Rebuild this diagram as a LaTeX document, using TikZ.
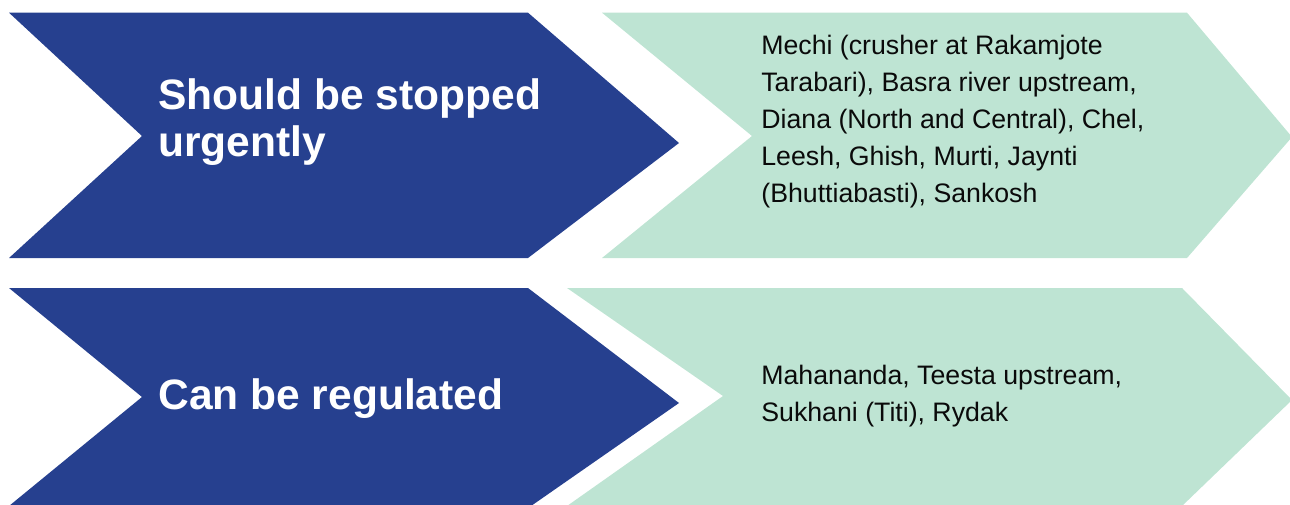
\documentclass[tikz,border=0pt]{standalone}
\usepackage{fontspec}
\setmainfont{Liberation Sans}
\usepackage{xcolor}
\usetikzlibrary{positioning}
\definecolor{navy}{HTML}{26408F}
\definecolor{mint}{HTML}{BEE4D3}
\definecolor{ink}{HTML}{0A0A0A}

\begin{document}
\begin{tikzpicture}[
  x=0.02cm, y=-0.02cm,
  every node/.style={font=\rmfamily},
  bluechev/.style={fill=navy, draw=none},
  mintchev/.style={fill=mint, draw=none},
  headtxt/.style={
    font=\fontsize{24.2pt}{26.7pt}\selectfont\bfseries, text=white,
    anchor=north west, inner sep=0pt, align=left
  },
  listtxt/.style={
    font=\fontsize{15.2pt}{21pt}\selectfont, text=ink,
    anchor=north west, inner sep=0pt, align=left
  }
]
\useasboundingbox (0,0) rectangle (1290,504);
\clip (0,0) rectangle (1290,504);

% --- TOP ROW ---
\fill[bluechev] (9,12.7) -- (528,12.7) -- (679,143) -- (528,258) -- (9,258) -- (142,136) -- cycle;
\fill[mintchev] (602,12.7) -- (1187,12.7) -- (1292,137) -- (1187,258) -- (602,258) -- (752,136) -- cycle;

\node[headtxt] (urgent) at (158,78) {Should be stopped\\urgently};
\node[listtxt] (urgentlist) at (761,35) {Mechi (crusher at Rakamjote\\Tarabari), Basra river upstream,\\Diana (North and Central), Chel,\\Leesh, Ghish, Murti, Jaynti\\(Bhuttiabasti), Sankosh};

% --- BOTTOM ROW ---
\fill[bluechev] (9,288) -- (528,288) -- (679,403) -- (531,506) -- (9,506) -- (142,397) -- cycle;
\fill[mintchev] (567,288) -- (1182,288) -- (1292,400) -- (1182,506) -- (567,506) -- (723,396) -- cycle;

\node[headtxt] (regulated) at (158,378) {Can be regulated};
\node[listtxt] (regulatedlist) at (761,365) {Mahananda, Teesta upstream,\\Sukhani (Titi), Rydak};

\end{tikzpicture}
\end{document}
